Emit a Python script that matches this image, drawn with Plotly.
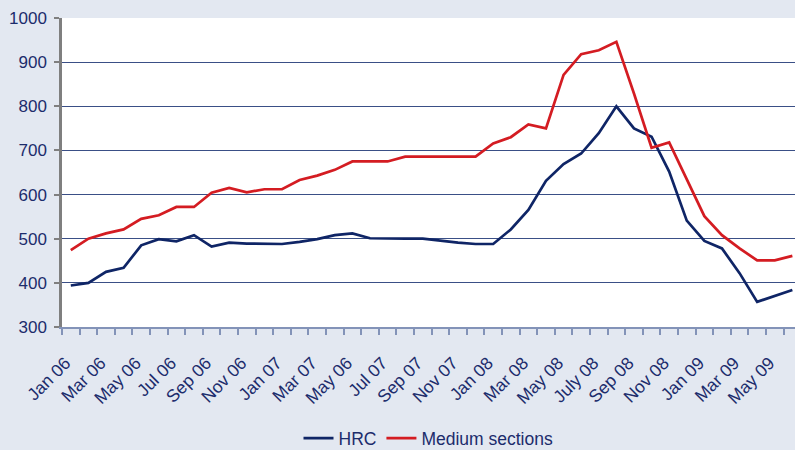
import plotly.graph_objects as go

months = ["Jan 06","Feb 06","Mar 06","Apr 06","May 06","Jun 06","Jul 06","Aug 06","Sep 06","Oct 06","Nov 06","Dec 06",
          "Jan 07","Feb 07","Mar 07","Apr 07","May 07","Jun 07","Jul 07","Aug 07","Sep 07","Oct 07","Nov 07","Dec 07",
          "Jan 08","Feb 08","Mar 08","Apr 08","May 08","Jun 08","Jul 08","Aug 08","Sep 08","Oct 08","Nov 08","Dec 08",
          "Jan 09","Feb 09","Mar 09","Apr 09","May 09","Jun 09"]

hrc = [394, 400, 425, 434, 485, 499, 494, 508, 482, 491, 489, 488,
       488, 493, 499, 508, 512, 501, 500, 500, 500, 495, 491, 488,
       488, 521, 565, 631, 669, 693, 739, 800, 750, 731, 652, 541,
       495, 478, 422, 357, 371, 384]

medium = [474, 500, 512, 521, 545, 553, 572, 572, 604, 615, 605, 612,
          612, 633, 643, 656, 675, 675, 675, 686, 686, 686, 686, 686,
          716, 730, 759, 750, 871, 918, 927, 946, 829, 706, 718, 633,
          551, 508, 478, 451, 451, 461]

tick_labels = ["Jan 06","Mar 06","May 06","Jul 06","Sep 06","Nov 06","Jan 07","Mar 07","May 06","Jul 07",
               "Sep 07","Nov 07","Jan 08","Mar 08","May 08","July 08","Sep 08","Nov 08","Jan 09","Mar 09","May 09"]

x = list(range(len(months)))
# rotated labels end slightly left of the category centre
tick_pos = [i - 0.3 for i in range(0, len(months), 2)]

NAVY = "#0f2566"
RED = "#d41c22"
TEXT = "#1c2c6c"
BG = "#e3e8f1"

fig = go.Figure()
fig.add_trace(go.Scatter(x=x, y=hrc, name="HRC", mode="lines",
                         line=dict(color=NAVY, width=2.7), text=months))
fig.add_trace(go.Scatter(x=x, y=medium, name="Medium sections", mode="lines",
                         line=dict(color=RED, width=2.7), text=months))

fig.update_layout(
    width=795, height=450,
    margin=dict(l=62, r=0, t=18, b=123, autoexpand=False),
    paper_bgcolor=BG, plot_bgcolor="white",
    font=dict(family="Liberation Sans, Arial, sans-serif", color=TEXT),
    showlegend=True,
    legend=dict(orientation="h", x=0.5, xanchor="center", y=-0.36, yanchor="middle",
                font=dict(size=17.5, color=TEXT), bgcolor="rgba(0,0,0,0)",
                itemwidth=30, tracegroupgap=0),
)

fig.update_xaxes(
    range=[-0.5, 41.15],
    tickmode="array", tickvals=tick_pos, ticktext=tick_labels,
    tickangle=-45, tickfont=dict(size=17.5, color=TEXT),
    ticks="", showgrid=False, zeroline=False,
    showline=True, linecolor="#8393b8", linewidth=2,
    ticklabelstandoff=17,
    minor=dict(tick0=-0.5, dtick=1, ticks="outside", ticklen=6, tickcolor="#8393b8",
               tickwidth=1.5, showgrid=False),
)

fig.update_yaxes(
    range=[300, 1000], tickmode="linear", tick0=300, dtick=100,
    tickfont=dict(size=17, color=TEXT),
    showgrid=True, gridcolor="#3a4f86", gridwidth=1.2,
    zeroline=False, showline=True, linecolor="#7f7f7f", linewidth=2.5,
    ticks="outside", ticklen=5, tickcolor="#7f7f7f", tickwidth=1.5,
    ticklabelstandoff=4,
)

fig.write_html("out.html", config={"displayModeBar": False},
               post_script="document.body.style.margin='0';document.body.style.padding='0';document.body.style.overflow='hidden';")
